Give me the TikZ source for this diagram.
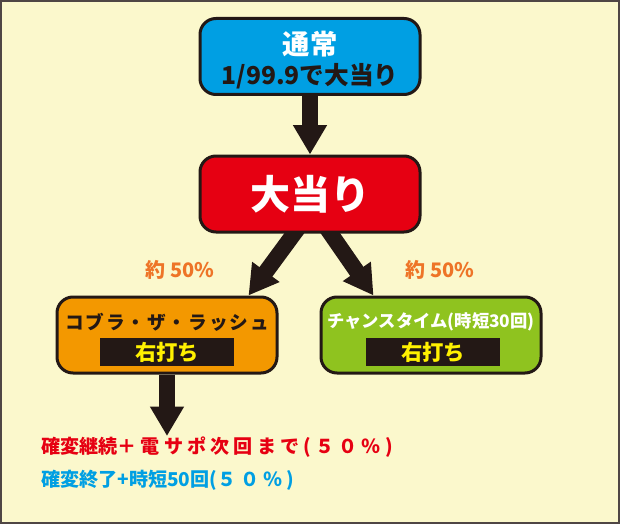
\documentclass[tikz,border=0pt]{standalone}
\usepackage{fontspec}
\newfontfamily\jp{Noto Sans CJK JP}
\newfontfamily\jpwide{Noto Sans CJK JP}[LetterSpace=22]
\newfontfamily\jpopen{Noto Sans CJK JP}[LetterSpace=10]
\usetikzlibrary{arrows.meta,calc}
\pgfdeclarelayer{back}
\pgfsetlayers{back,main}
\definecolor{bgyellow}{HTML}{FBF8CC}
\definecolor{inkblack}{HTML}{231815}
\definecolor{topblue}{HTML}{009FE3}
\definecolor{hitred}{HTML}{E60012}
\definecolor{rushorange}{HTML}{F39800}
\definecolor{chancegreen}{HTML}{8FC31F}
\definecolor{baryellow}{HTML}{FFF100}
\definecolor{rateorange}{HTML}{EE7427}
\tikzset{
  box/.style={draw=inkblack,line width=2.25pt,rounded corners=12pt,minimum width=165pt,minimum height=57pt},
  boxtitle/.style={font=\jp\bfseries\fontsize{14}{14}\selectfont,inner sep=0pt},
  bar/.style={fill=inkblack,text=baryellow,minimum width=100pt,minimum height=21pt,inner sep=0pt,font=\jp\bfseries\fontsize{16}{16}\selectfont},
  rate/.style={text=rateorange,font=\jp\bfseries\fontsize{15}{15}\selectfont},
  result/.style={anchor=west,inner sep=0pt,font=\jp\bfseries\fontsize{14.3}{14.3}\selectfont},
  fat/.style={draw=inkblack,line width=12pt,-{Triangle[width=24pt,length=22pt]}},
}
\begin{document}
\begin{tikzpicture}[x=0.75pt,y=-0.75pt]
  \useasboundingbox (0,0) rectangle (620,524);
  \begin{pgfonlayer}{back}
    \fill[bgyellow] (0,0) rectangle (620,524);
    \draw[inkblack!80,line width=1.5pt] (1,1) rectangle (619,523);
  \end{pgfonlayer}
  % boxes
  \node[box,fill=topblue] (normal) at (310,56.5) {};
  \node[boxtitle,text=white,font=\jp\bfseries\fontsize{20.5}{20.5}\selectfont] (normaltitle) at (310,44) {通常};
  \node[boxtitle,text=inkblack,font=\jp\bfseries\fontsize{18.5}{18.5}\selectfont] (normalrate) at (310,76) {1/99.9で大当り};
  \node[box,fill=hitred,text=white,font=\jp\bfseries\fontsize{30}{30}\selectfont] (hit) at (310,194) {大当り};
  \node[box,fill=rushorange] (cobra) at (167,335) {};
  \node[boxtitle,text=inkblack,font=\jpopen\bfseries\fontsize{14}{14}\selectfont] (cobratitle) at (167,322) {コブラ・ザ・ラッシュ};
  \node[bar] (cobrabar) at (167,352) {右打ち};
  \node[box,fill=chancegreen] (chance) at (431,335) {};
  \node[boxtitle,text=white,font=\jp\bfseries\fontsize{13}{13}\selectfont] (chancetitle) at (431,322) {チャンスタイム(時短30回)};
  \node[bar] (chancebar) at (433,352) {右打ち};
  % rates
  \node[rate] (leftrate) at (180,270) {約 50\%};
  \node[rate] (rightrate) at (440,270) {約 50\%};
  % results
  \coordinate (resulttip) at (167,436);
  \node[result,text=hitred] (keep) at (41,447) {確変継続{\jpwide ＋電サポ次回まで(５０％)}};
  \node[result,text=topblue] (finish) at (41,480) {確変終了+時短50回({\jpwide ５０％)}};
  % arrows
  \begin{pgfonlayer}{back}
    \draw[fat] (normal) -- (hit);
    \draw[fat] ($(hit.south)+(-10,-8)$) -- ($(cobra.north east)+(-30,0)$);
    \draw[fat] ($(hit.south)+(15,-8)$) -- ($(chance.north west)+(54,0)$);
    \draw[fat] (cobra) -- (resulttip);
  \end{pgfonlayer}
\end{tikzpicture}
\end{document}
